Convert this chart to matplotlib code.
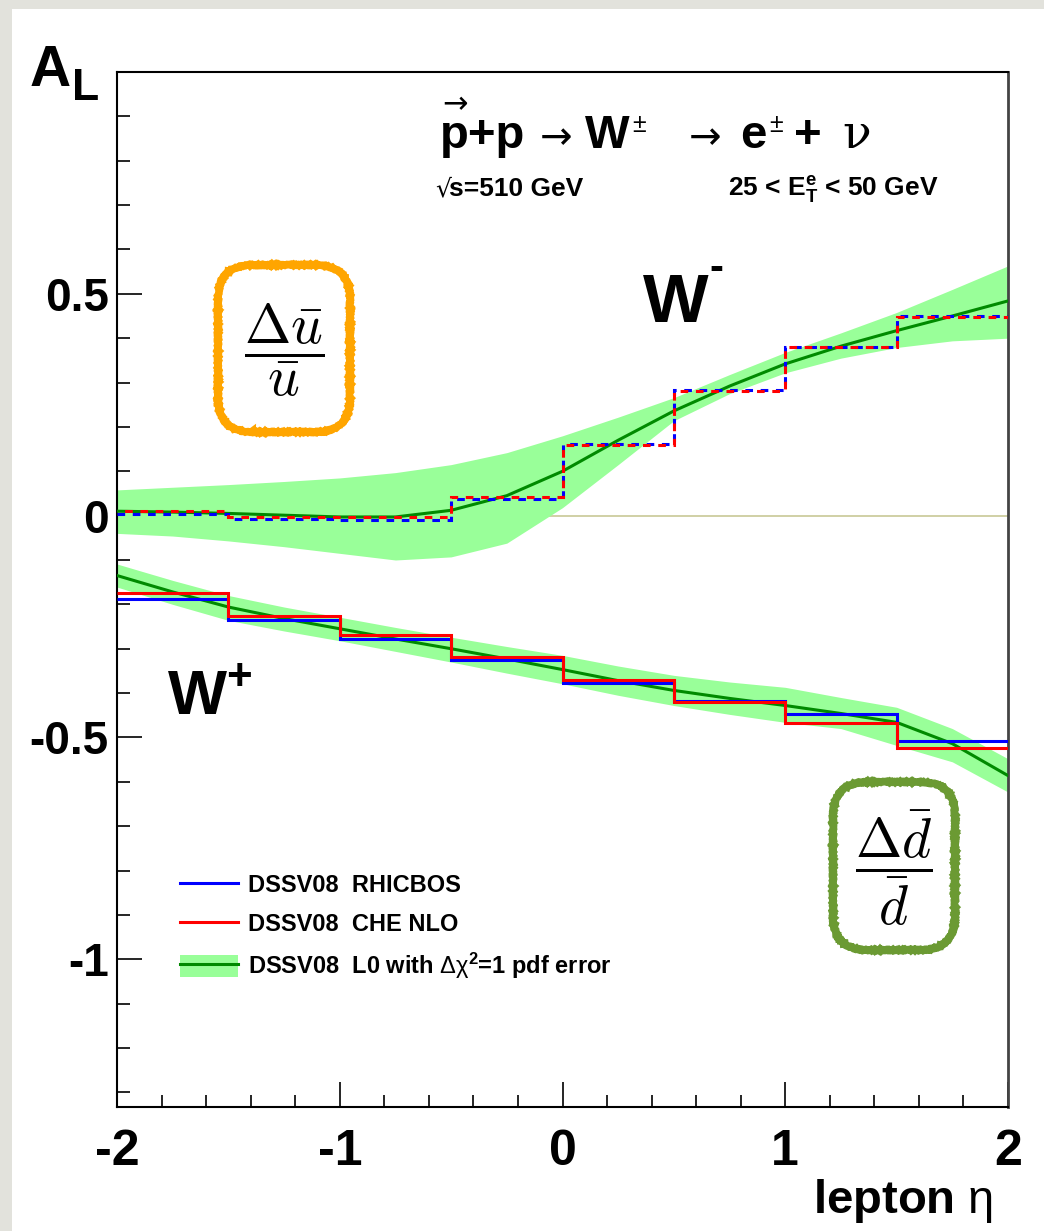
import numpy as np
import matplotlib.pyplot as plt
from matplotlib.lines import Line2D
from matplotlib.patches import Patch, Rectangle, FancyBboxPatch
from matplotlib.legend_handler import HandlerTuple
from matplotlib.transforms import IdentityTransform

plt.rcParams['font.family'] = ['Liberation Sans', 'DejaVu Sans']
plt.rcParams['mathtext.fontset'] = 'custom'
plt.rcParams['mathtext.rm'] = 'Liberation Sans'
plt.rcParams['mathtext.bf'] = 'Liberation Sans:bold'
plt.rcParams['mathtext.it'] = 'Liberation Sans:italic'
plt.rcParams['mathtext.sf'] = 'Liberation Sans'

#Data
# bin edges of the histograms (lepton eta)
edges = np.array([-2.0, -1.5, -1.0, -0.5, 0.0, 0.5, 1.0, 1.5, 2.0])

# W- asymmetry per bin
wm_rhicbos = [0.004, -0.008, -0.009, 0.037, 0.161, 0.283, 0.381, 0.449]
wm_che = [0.010, -0.002, -0.003, 0.041, 0.159, 0.281, 0.379, 0.447]

# W+ asymmetry per bin
wp_rhicbos = [-0.188, -0.235, -0.279, -0.325, -0.378, -0.418, -0.448, -0.507]
wp_che = [-0.174, -0.227, -0.269, -0.318, -0.371, -0.419, -0.467, -0.523]

# LO curves with pdf error band
eta = [-2.0, -1.75, -1.5, -1.25, -1.0, -0.75, -0.5, -0.25, 0.0,
       0.25, 0.5, 0.75, 1.0, 1.25, 1.5, 1.75, 2.0]
wm_lo = [0.010, 0.008, 0.005, 0.001, -0.003, -0.003, 0.012, 0.045, 0.100,
         0.170, 0.236, 0.292, 0.342, 0.382, 0.417, 0.450, 0.484]
wm_hi = [0.058, 0.064, 0.070, 0.077, 0.085, 0.097, 0.115, 0.142, 0.180,
         0.222, 0.266, 0.318, 0.368, 0.412, 0.458, 0.510, 0.563]
wm_lo_err = [-0.040, -0.046, -0.057, -0.070, -0.085, -0.100, -0.093, -0.062, 0.018,
             0.115, 0.214, 0.275, 0.322, 0.355, 0.379, 0.394, 0.400]
wp_lo = [-0.135, -0.172, -0.206, -0.232, -0.255, -0.278, -0.300, -0.323, -0.347,
         -0.372, -0.394, -0.412, -0.428, -0.446, -0.466, -0.514, -0.586]
wp_hi = [-0.109, -0.146, -0.180, -0.206, -0.229, -0.252, -0.274, -0.295, -0.315,
         -0.339, -0.360, -0.375, -0.387, -0.410, -0.432, -0.480, -0.548]
wp_lo_err = [-0.161, -0.200, -0.236, -0.260, -0.282, -0.306, -0.330, -0.355, -0.379,
             -0.405, -0.428, -0.448, -0.466, -0.480, -0.518, -0.555, -0.623]

BAND = '#99ff99'
LINE = '#008a00'
W, H = 1044, 1231


def fx(px):
    return px / W


def fy(py):
    return 1 - py / H


fig = plt.figure(figsize=(10.44, 12.31), dpi=100)
fig.patch.set_facecolor('#e2e2dc')
fig.add_artist(Rectangle((fx(12), 0), 1, fy(9), transform=fig.transFigure,
                         facecolor='white', edgecolor='none', zorder=-10))

ax = fig.add_axes([fx(117), fy(1107), (1008-117)/W, (1107-72)/H])
ax.set_xlim(-2, 2)
ax.set_ylim(-1.333, 1.0)

ax.axhline(0, color='#c8c896', lw=1.2, zorder=1)

ax.fill_between(eta, wm_lo_err, wm_hi, color=BAND, lw=0, zorder=2)
ax.fill_between(eta, wp_lo_err, wp_hi, color=BAND, lw=0, zorder=2)
ax.plot(eta, wm_lo, color=LINE, lw=2.2, zorder=3)
ax.plot(eta, wp_lo, color=LINE, lw=2.2, zorder=3)

ax.stairs(wm_rhicbos, edges, baseline=None, color='blue', lw=2.2,
          linestyle=(0, (2.5, 2.5)), zorder=4)
ax.stairs(wm_che, edges, baseline=None, color='red', lw=2.2,
          linestyle=(2.5, (2.5, 2.5)), zorder=4)
ax.stairs(wp_rhicbos, edges, baseline=None, color='blue', lw=2.2, zorder=4)
ax.stairs(wp_che, edges, baseline=None, color='red', lw=2.2, zorder=5)

#Axes style
for side in ['left', 'bottom', 'top']:
    ax.spines[side].set_linewidth(1.5)
ax.spines['right'].set_linewidth(2)
ax.spines['right'].set_color('#444444')
ax.set_xticks([-2, -1, 0, 1, 2])
ax.set_xticks(np.arange(-2, 2.01, 0.2), minor=True)
ax.set_yticks([-1, -0.5, 0, 0.5])
ax.set_yticks(np.arange(-1.3, 1.0, 0.1), minor=True)
ax.set_xticklabels(['-2', '-1', '0', '1', '2'], fontsize=36, fontweight='bold')
ax.set_yticklabels(['-1', '-0.5', '0', '0.5'], fontsize=33, fontweight='bold')
ax.tick_params(axis='both', which='both', direction='in', top=False, right=False)
ax.tick_params(axis='y', which='major', length=18, width=1.2, pad=6)
ax.tick_params(axis='y', which='minor', length=9, width=1.2)
ax.tick_params(axis='x', which='major', length=18, width=1.2, pad=16)
ax.tick_params(axis='x', which='minor', length=9, width=1.2)

#Axis titles
fig.text(fx(30), fy(86), 'A', fontsize=41, fontweight='bold', va='baseline')
fig.text(fx(72), fy(100), 'L', fontsize=32, fontweight='bold', va='baseline')
fig.text(fx(993), fy(1213), r'lepton $\mathrm{\eta}$', fontsize=34,
         fontweight='bold', ha='right', va='baseline')

#Process title, built piece by piece
tb = 148
fig.text(fx(440), fy(tb), 'p+p', fontsize=34, fontweight='bold', va='baseline')
fig.text(fx(455), fy(113), '→', fontsize=22, family='DejaVu Sans', ha='center', va='baseline')
fig.text(fx(556), fy(tb + 1), '→', fontsize=28, family='DejaVu Sans', ha='center', va='baseline')
fig.text(fx(585), fy(tb), 'W', fontsize=34, fontweight='bold', va='baseline')
fig.text(fx(632), fy(tb - 16), '±', fontsize=18, va='baseline')
fig.text(fx(705), fy(tb + 1), '→', fontsize=28, family='DejaVu Sans', ha='center', va='baseline')
fig.text(fx(740), fy(tb), 'e', fontsize=34, fontweight='bold', va='baseline')
fig.text(fx(769), fy(tb - 16), '±', fontsize=18, va='baseline')
fig.text(fx(794), fy(tb), '+', fontsize=34, fontweight='bold', va='baseline')
fig.text(fx(842), fy(tb), 'ν', fontsize=34, family='DejaVu Serif', va='baseline')

fig.text(fx(435), fy(196), '√', fontsize=18, family='DejaVu Sans', va='baseline')
fig.text(fx(449), fy(196), 's=510 GeV', fontsize=19, fontweight='bold', va='baseline')
fig.text(fx(728), fy(196), r'25 < E$_{\mathbf{T}}^{\mathbf{e}}$ < 50 GeV', fontsize=19,
         fontweight='bold', va='baseline')

fig.text(fx(643), fy(322), 'W', fontsize=50, fontweight='bold', va='baseline')
fig.text(fx(709), fy(280), '-', fontsize=30, fontweight='bold', va='baseline')
fig.text(fx(167), fy(715), r'$\mathbf{W^{+}}$', fontsize=45, va='baseline')

#Quark ratio boxes
boxes = [((218, 265, 350, 432), '#ffa500', r'$\dfrac{\Delta\bar{u}}{\bar{u}}$'),
         ((833, 782, 955, 950), '#6b9a33', r'$\dfrac{\Delta\bar{d}}{\bar{d}}$')]
for (x0, y0, x1, y1), col, txt in boxes:
    b = FancyBboxPatch((x0, H - y1), x1 - x0, y1 - y0, boxstyle='round,pad=0,rounding_size=34',
                       transform=IdentityTransform(), fc='none', ec=col, lw=5.5)
    b.set_sketch_params(scale=0.6, length=2, randomness=3)
    fig.add_artist(b)
    fig.text(fx((x0 + x1) / 2), fy((y0 + y1) / 2 + 2), txt, fontsize=40,
             math_fontfamily='cm', ha='center', va='center')

#Legend
handles = [Line2D([], [], color='blue', lw=2.2),
           Line2D([], [], color='red', lw=2.2),
           (Patch(facecolor=BAND, edgecolor='none'), Line2D([], [], color=LINE, lw=2.2))]
labels = ['DSSV08  RHICBOS', 'DSSV08  CHE NLO',
          r'DSSV08  L0 with $\mathrm{\Delta\chi}^{\mathbf{2}}$=1 pdf error']
leg = ax.legend(handles, labels, loc='upper left', frameon=False,
                bbox_to_anchor=(fx(180), fy(873)), bbox_transform=fig.transFigure,
                borderpad=0, borderaxespad=0, handlelength=2.45, handleheight=1.1,
                handletextpad=0.42, labelspacing=0.62,
                prop={'size': 17, 'weight': 'bold'},
                handler_map={tuple: HandlerTuple(ndivide=1)})

plt.savefig('out.png', dpi=100)
